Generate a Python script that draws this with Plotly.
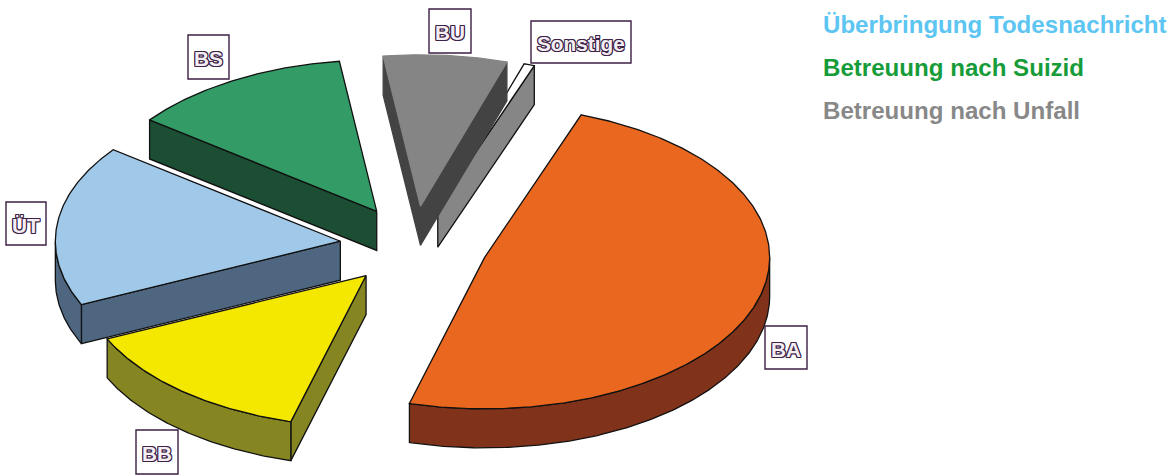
import numpy as np
import plotly.graph_objects as go

# Pie slices, clockwise from the start angle
categories = ["BA", "BB", "ÜT", "BS", "BU", "Sonstige"]
values = [48.8, 13.9, 17.2, 12.6, 7.0, 0.6]
top_colors = ["#EA671F", "#F5E800", "#A0C8E9", "#339C66", "#858585", "#FFFFFF"]
side_colors = ["#80331A", "#858522", "#4E6680", "#1C4E33", "#434343", "#868686"]
outline_colors = ["#111111", "#111111", "#111111", "#111111", None, "#111111"]

legend_labels = ["Überbringung Todesnachricht", "Betreuung nach Suizid", "Betreuung nach Unfall"]
legend_colors = ["#5BC5F2", "#149B37", "#878787"]

# Projection of the tilted pie onto the page
CX, CY = 414.0, 245.5
RX, RY = 285.0, 151.5
DEPTH = 39.0
EXPLODE = 0.26
START_DEG = 70.2

# Label boxes: x0, x1, y0, y1 per category
label_boxes = {
    "BA": (765, 807, 326, 369),
    "BB": (136, 178, 430, 474),
    "ÜT": (6, 46, 202, 245),
    "BS": (188, 229, 35, 79),
    "BU": (429, 471, 9, 53),
    "Sonstige": (531, 631, 21, 63),
}


def slice_geometry(a0, a1):
    """Apex and rim points of an exploded slice between two angles in degrees."""
    mid = np.radians((a0 + a1) / 2)
    ax = CX + EXPLODE * RX * np.cos(mid)
    ay = CY - EXPLODE * RY * np.sin(mid)
    th = np.radians(np.linspace(a0, a1, max(4, int(abs(a1 - a0) * 2))))
    return ax, ay, th


def rim(ax, ay, th):
    return ax + RX * np.cos(th), ay - RY * np.sin(th)


def polygon(xs, ys, fill, line):
    xs, ys = np.append(xs, xs[0]), np.append(ys, ys[0])
    return go.Scatter(
        x=xs, y=ys, mode="lines", fill="toself", fillcolor=fill,
        line=dict(color=line if line else fill, width=1.3),
        hoverinfo="skip", showlegend=False,
    )


def wall_faces_viewer(ax, ay, px, py, mx, my):
    """A radial wall shows when the slice top and the extrusion lie on opposite sides of its edge."""
    down_side = (px - ax) * DEPTH
    inner_side = (px - ax) * (my - ay) - (py - ay) * (mx - ax)
    return down_side * inner_side < 0


fig = go.Figure()
shares = np.array(values) / sum(values) * 360.0
ends = START_DEG - np.cumsum(shares)
starts = ends + shares

# Painter's order: rear slices first, the large front slice last
for i in [5, 4, 3, 2, 1, 0]:
    ax, ay, th = slice_geometry(starts[i], ends[i])
    rx, ry = rim(ax, ay, th)
    side, top, line = side_colors[i], top_colors[i], outline_colors[i]
    mx, my = rim(ax, ay, np.array([th[len(th) // 2]]))
    for px, py in ((rx[0], ry[0]), (rx[-1], ry[-1])):
        if wall_faces_viewer(ax, ay, px, py, mx[0], my[0]):
            fig.add_trace(polygon(np.array([ax, px, px, ax]),
                                  np.array([ay, py, py + DEPTH, ay + DEPTH]), side, line))
    # Only the front half of the rim has a visible outer wall
    front = np.sin(th) <= 0
    if front.sum() > 1:
        fx, fy = rx[front], ry[front]
        fig.add_trace(polygon(np.concatenate([fx, fx[::-1]]),
                              np.concatenate([fy, fy[::-1] + DEPTH]), side, line))
    fig.add_trace(polygon(np.concatenate([[ax], rx]), np.concatenate([[ay], ry]), top, line))

# Boxed slice labels with outlined text
stroke = "#3C1F44"
d = 0.9
outline = ",".join(f"{x}px {y}px 0 {stroke}" for x, y in
                   [(d, 0), (-d, 0), (0, d), (0, -d), (d, d), (-d, d), (d, -d), (-d, -d)])
for name in categories:
    x0, x1, y0, y1 = label_boxes[name]
    fig.add_shape(type="rect", x0=x0, x1=x1, y0=y0, y1=y1, fillcolor="#FFFFFF",
                  line=dict(color=stroke, width=1.4), layer="above")
    fig.add_annotation(
        x=(x0 + x1) / 2, y=(y0 + y1) / 2, text=name, showarrow=False,
        xanchor="center", yanchor="middle", yshift=-1.5, opacity=0.99,
        font=dict(family="Liberation Sans", size=20.8, weight="bold", color="#F3EEF4", shadow=outline),
    )

# Colour key at the upper right
for label, color, y in zip(legend_labels, legend_colors, [24.5, 67.5, 110.5]):
    fig.add_annotation(
        x=821, y=y, text=label, showarrow=False, xanchor="left", yanchor="middle", opacity=0.99,
        font=dict(family="Liberation Sans", size=24.1, weight="bold", color=color),
    )

fig.update_layout(
    width=1176, height=475, margin=dict(l=0, r=0, t=0, b=0),
    paper_bgcolor="#FFFFFF", plot_bgcolor="#FFFFFF", showlegend=False,
    xaxis=dict(range=[0, 1176], visible=False, fixedrange=True),
    yaxis=dict(range=[475, 0], visible=False, fixedrange=True),
)
fig.write_html("out.html", config={"displayModeBar": False})
